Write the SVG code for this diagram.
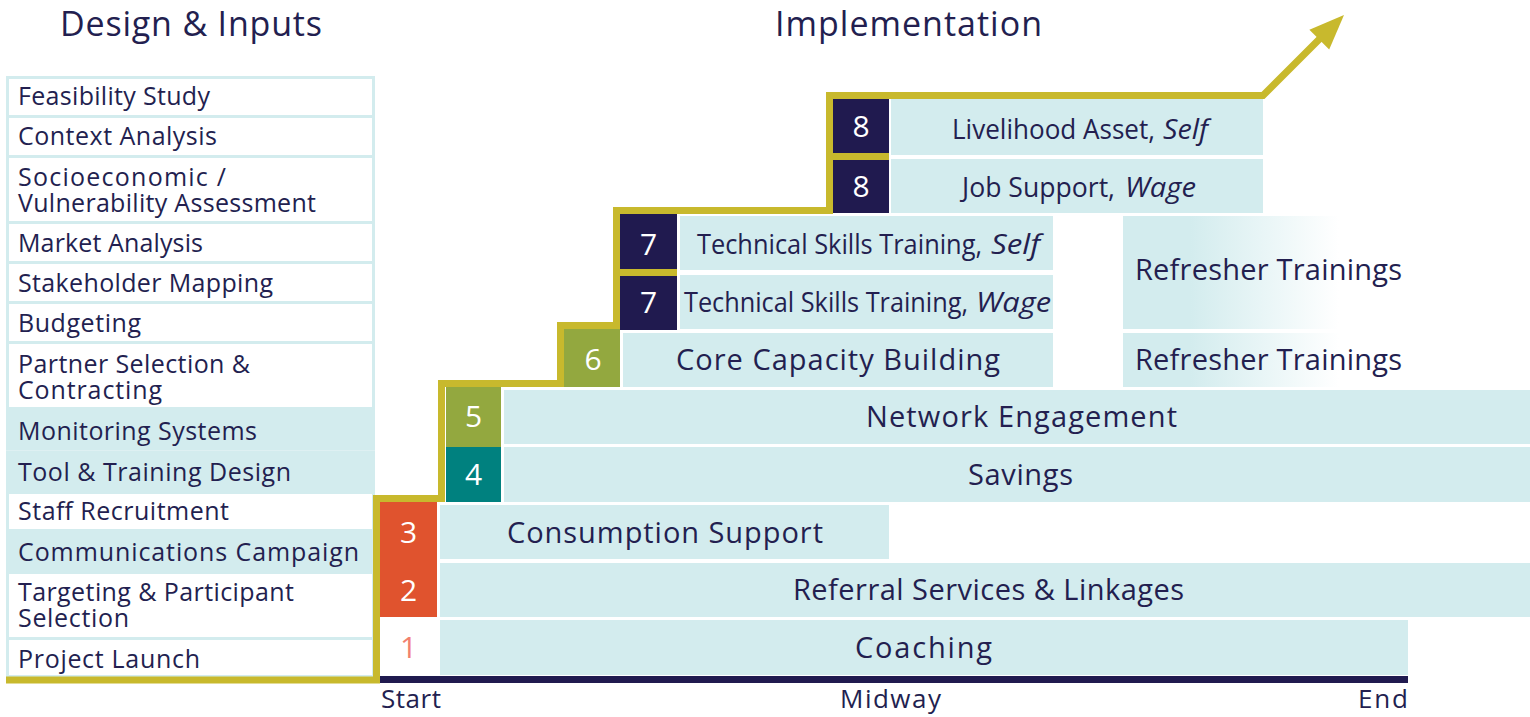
<svg xmlns="http://www.w3.org/2000/svg" width="1530" height="717" viewBox="0 0 1530 717">
<defs>
<linearGradient id="fade" x1="0" y1="0" x2="1" y2="0">
<stop offset="0" stop-color="#d3ecee"/>
<stop offset="0.165" stop-color="#d3ecee"/>
<stop offset="0.53" stop-color="#ffffff"/>
</linearGradient>
<style>
text{font-family:"Open Sans","Liberation Sans",sans-serif;fill:#231f50}
.hd{font-size:34px;font-weight:500;text-anchor:middle}
.lt{font-size:25px}
.row{fill:#ffffff;stroke:#d3ecee;stroke-width:3}
.rowf{fill:#d3ecee;stroke:#d3ecee;stroke-width:3}
.box{fill:#d3ecee}
.it{font-size:29px;text-anchor:middle}
.rf{font-size:29px}
.sm{font-size:27px}
.em{font-size:27px;font-style:italic}
.num{font-size:30px;fill:#ffffff;text-anchor:middle}
.gold{fill:none;stroke:#c8b92d;stroke-width:7;stroke-linejoin:miter;stroke-linecap:butt}
.ax{font-size:26px}
</style>
</defs>
<rect width="1530" height="717" fill="#ffffff"/>

<g id="headings">
<text class="hd" x="191" y="36" textLength="262">Design &amp; Inputs</text>
<text class="hd" x="908.5" y="36" textLength="267">Implementation</text>
</g>

<g id="design-inputs">
<g id="d-feasibility"><rect class="row" x="7.5" y="77.5" width="366" height="39"/><text class="lt" x="18" y="105" textLength="192">Feasibility Study</text></g>
<g id="d-context"><rect class="row" x="7.5" y="116.5" width="366" height="40"/><text class="lt" x="18" y="145" textLength="199">Context Analysis</text></g>
<g id="d-socio"><rect class="row" x="7.5" y="156.5" width="366" height="66"/><text class="lt" x="18" y="186" textLength="208">Socioeconomic /</text><text class="lt" x="18" y="212" textLength="298">Vulnerability Assessment</text></g>
<g id="d-market"><rect class="row" x="7.5" y="222.5" width="366" height="40"/><text class="lt" x="18" y="252" textLength="185">Market Analysis</text></g>
<g id="d-stakeholder"><rect class="row" x="7.5" y="262.5" width="366" height="40"/><text class="lt" x="18" y="292" textLength="255">Stakeholder Mapping</text></g>
<g id="d-budgeting"><rect class="row" x="7.5" y="302.5" width="366" height="40"/><text class="lt" x="18" y="332" textLength="123">Budgeting</text></g>
<g id="d-partner"><rect class="row" x="7.5" y="342.5" width="366" height="66"/><text class="lt" x="18" y="373" textLength="232">Partner Selection &amp;</text><text class="lt" x="18" y="399" textLength="144">Contracting</text></g>
<g id="d-monitoring"><rect class="rowf" x="7.5" y="409" width="366" height="40"/><text class="lt" x="18" y="440" textLength="239">Monitoring Systems</text></g>
<g id="d-tool"><rect class="rowf" x="7.5" y="452" width="366" height="39"/><text class="lt" x="18" y="481" textLength="273">Tool &amp; Training Design</text></g>
<g id="d-staff"><rect class="row" x="7.5" y="492.5" width="366" height="38"/><text class="lt" x="18" y="520" textLength="211">Staff Recruitment</text></g>
<g id="d-comms"><rect class="rowf" x="7.5" y="531.5" width="366" height="40"/><text class="lt" x="18" y="561" textLength="341">Communications Campaign</text></g>
<g id="d-targeting"><rect class="row" x="7.5" y="572.5" width="366" height="66"/><text class="lt" x="18" y="601" textLength="276">Targeting &amp; Participant</text><text class="lt" x="18" y="627" textLength="111">Selection</text></g>
<g id="d-launch"><rect class="row" x="7.5" y="638.5" width="366" height="38"/><text class="lt" x="18" y="668" textLength="182">Project Launch</text></g>
</g>

<g id="implementation">
<g id="n1"><rect x="380" y="620" width="57" height="55" fill="#ffffff"/><text class="num" x="408.5" y="658" style="fill:#f2806e">1</text>
<rect class="box" x="440" y="620" width="968" height="55"/><text class="it" x="923.5" y="658" textLength="137">Coaching</text></g>
<g id="n2-3"><rect x="380" y="502" width="57" height="115" fill="#e0532e"/><text class="num" x="408.5" y="543">3</text><text class="num" x="408.5" y="601">2</text></g>
<g id="n2"><rect class="box" x="440" y="563" width="1090" height="54"/><text class="it" x="988.5" y="600" textLength="391">Referral Services &amp; Linkages</text></g>
<g id="n3"><rect class="box" x="440" y="505" width="449" height="54"/><text class="it" x="665" y="543" textLength="316">Consumption Support</text></g>
<g id="n4"><rect x="446" y="447" width="55" height="55" fill="#00817f"/><text class="num" x="473.5" y="485">4</text>
<rect class="box" x="504" y="447" width="1026" height="55"/><text class="it" x="1020.5" y="485" textLength="105">Savings</text></g>
<g id="n5"><rect x="446" y="387" width="55" height="60" fill="#93a83f"/><text class="num" x="473.5" y="427">5</text>
<rect class="box" x="504" y="390" width="1026" height="54"/><text class="it" x="1021.5" y="427" textLength="311">Network Engagement</text></g>
<g id="n6"><rect x="564" y="329" width="56" height="58" fill="#93a83f"/><text class="num" x="593" y="370">6</text>
<rect class="box" x="623" y="333" width="430" height="54"/><text class="it" x="838" y="370" textLength="324">Core Capacity Building</text></g>
<g id="n6r"><rect x="1123" y="333" width="407" height="54" fill="url(#fade)"/><text class="rf" x="1135" y="370" textLength="267">Refresher Trainings</text></g>
<g id="n7w"><rect x="620" y="276" width="57" height="54" fill="#201a4f"/><text class="num" x="648.5" y="313">7</text>
<rect class="box" x="680" y="275" width="373" height="54"/>
<text class="sm" x="684" y="312" textLength="284" lengthAdjust="spacingAndGlyphs">Technical Skills Training,</text>
<text class="em" x="976" y="312" textLength="75" lengthAdjust="spacingAndGlyphs">Wage</text></g>
<g id="n7s"><rect x="620" y="214" width="57" height="55" fill="#201a4f"/><text class="num" x="648.5" y="255">7</text>
<rect class="box" x="680" y="216" width="373" height="54"/>
<text class="sm" x="697" y="254" textLength="285" lengthAdjust="spacingAndGlyphs">Technical Skills Training,</text>
<text class="em" x="991" y="254" textLength="49" lengthAdjust="spacingAndGlyphs">Self</text></g>
<g id="n7r"><rect x="1123" y="216" width="407" height="113" fill="url(#fade)"/><text class="rf" x="1135" y="280" textLength="267">Refresher Trainings</text></g>
<g id="n8w"><rect x="833" y="160" width="56" height="53" fill="#201a4f"/><text class="num" x="861" y="197">8</text>
<rect class="box" x="891" y="159" width="372" height="54"/>
<text class="sm" x="962" y="197" textLength="153" lengthAdjust="spacingAndGlyphs">Job Support,</text>
<text class="em" x="1125" y="197" textLength="71" lengthAdjust="spacingAndGlyphs">Wage</text></g>
<g id="n8s"><rect x="833" y="99" width="56" height="54" fill="#201a4f"/><text class="num" x="861" y="137">8</text>
<rect class="box" x="891" y="99" width="372" height="56"/>
<text class="sm" x="952" y="139" textLength="203" lengthAdjust="spacingAndGlyphs">Livelihood Asset,</text>
<text class="em" x="1163" y="139" textLength="45" lengthAdjust="spacingAndGlyphs">Self</text></g>
</g>

<g id="connectors">
<path class="gold" d="M6 680 H376.5 V498.5 H441.5 V383.5 H560.5 V325.5 H616.5 V210.5 H829.5 V95.5 H1263 L1320 38.5"/>
<path class="gold" d="M613 272.5 H677"/>
<path class="gold" d="M826 156.5 H889"/>
<polygon points="1344,15 1309.4,29.8 1329.2,49.6" fill="#c8b92d"/>
<rect x="380" y="676" width="1028" height="7" fill="#201a4f"/>
</g>

<g id="axis-labels">
<text class="ax" x="381" y="708" textLength="60">Start</text>
<text class="ax" x="890.5" y="708" text-anchor="middle" textLength="101">Midway</text>
<text class="ax" x="1408" y="708" text-anchor="end" textLength="50">End</text>
</g>
</svg>
